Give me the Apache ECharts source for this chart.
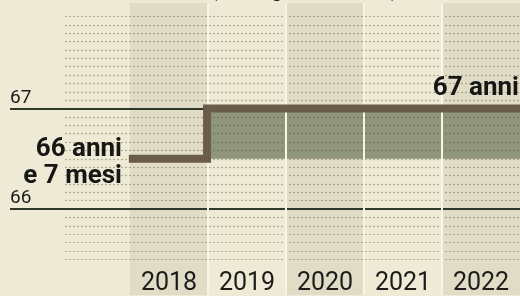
<!DOCTYPE html>
<html>
<head>
<meta charset="utf-8">
<script src="https://cdn.jsdelivr.net/npm/echarts@6/dist/echarts.min.js"></script>
<style>
  html, body { margin: 0; padding: 0; background: #efead5; }
  #main { width: 520px; height: 296px; }
</style>
</head>
<body>
<div id="main"></div>
<script>
// anni e età (in anni)
var years = [2018, 2019, 2020, 2021, 2022];
var ages = [66.5, 67, 67, 67, 67];
var refAges = [66, 67];
var refLabels = ['66', '67'];
var yMinAge = 65.5, yMaxAge = 67 + 11 / 12;

var colLeft = 130, colW = 79;
var gridTop = 16.4, gridBottom = 36.75;

// dati in mesi
var toM = function (a) { return Math.round(a * 12); };
var stepData = years.map(function (y, i) { return [y - 0.5, toM(ages[i])]; });
stepData.push([years[years.length - 1] + 0.5, toM(ages[ages.length - 1])]);

var xMinMain = years[0] - 0.5 - (colLeft - 10) / colW;
var xMax = years[years.length - 1] + 0.5;

var myChart = echarts.init(document.getElementById('main'));
var option = {
    backgroundColor: '#efead5',
    animation: false,
    grid: [
        { left: colLeft, width: colW * years.length, top: 3, bottom: 0 },
        { left: 65, right: -6, top: gridTop, bottom: gridBottom },
        { left: 10, right: -6, top: gridTop, bottom: gridBottom }
    ],
    xAxis: [
        {
            gridIndex: 0, type: 'category', data: years, boundaryGap: true, z: 0,
            position: 'bottom',
            axisLine: { show: false, onZero: false }, axisTick: { show: false }, axisLabel: { show: false },
            splitArea: { show: true, areaStyle: { color: ['#e1dcc5', 'rgba(0,0,0,0)'] } }
        },
        {
            gridIndex: 0, type: 'category', data: years, boundaryGap: true, z: 4,
            position: 'bottom',
            axisLine: { show: false, onZero: false }, axisTick: { show: false },
            axisLabel: {
                inside: true, margin: -1, color: '#1c1c1a',
                fontFamily: 'Roboto', fontSize: 25
            },
            splitLine: { show: true, showMinLine: false, showMaxLine: false,
                lineStyle: { color: '#f8f5e8', width: 2 } }
        },
        { gridIndex: 1, type: 'value', min: 0, max: 1, show: false },
        { gridIndex: 2, type: 'value', min: xMinMain, max: xMax, show: false }
    ],
    yAxis: [
        { gridIndex: 0, type: 'value', min: 0, max: 1, show: false },
        {
            gridIndex: 1, type: 'value', min: toM(yMinAge), max: toM(yMaxAge), interval: 1, z: 2,
            axisLine: { show: false }, axisTick: { show: false }, axisLabel: { show: false },
            splitLine: { show: true, lineStyle: { color: 'rgba(55,50,30,0.33)', width: 1.2, type: [2, 2] } }
        },
        { gridIndex: 2, type: 'value', min: toM(yMinAge), max: toM(yMaxAge), show: false }
    ],
    series: [
        {
            // area verde: aumento dell'età
            type: 'line', xAxisIndex: 3, yAxisIndex: 2, z: 1,
            data: [], symbol: 'none',
            markArea: {
                silent: true, z: 1,
                itemStyle: { color: '#8f967a' },
                data: [[
                    { xAxis: years[1] - 0.5, yAxis: toM(ages[0]) },
                    { xAxis: xMax, yAxis: toM(ages[1]) }
                ]]
            }
        },
        {
            // linee 66 e 67
            type: 'line', xAxisIndex: 3, yAxisIndex: 2, z: 3,
            data: [], symbol: 'none',
            markLine: {
                silent: true, z: 3, symbol: 'none',
                lineStyle: { color: '#2e382b', width: 2, type: 'solid' },
                label: {
                    position: 'insideStartTop', distance: [0, 1],
                    color: '#1c1c1a', fontFamily: 'Roboto', fontSize: 19,
                    formatter: function (p) { return refLabels[refAges.indexOf(p.value / 12)]; }
                },
                data: refAges.map(function (a) { return { yAxis: toM(a) }; })
            }
        },
        {
            type: 'line', xAxisIndex: 3, yAxisIndex: 2, z: 5,
            step: 'end', symbol: 'none',
            lineStyle: { color: '#6a5c4b', width: 8, cap: 'butt', join: 'miter' },
            data: stepData
        }
    ],
    graphic: [
        {
            type: 'text', left: 210, top: -21, z: 6,
            style: { text: '(età legale minima)', font: '22px Roboto', fill: '#1c1c1a' }
        },
        {
            type: 'text', x: 122, y: 149, z: 6,
            style: { text: '66 anni', font: 'bold 26px Roboto', fill: '#161614', align: 'right', verticalAlign: 'middle' }
        },
        {
            type: 'text', x: 122, y: 176, z: 6,
            style: { text: 'e 7 mesi', font: 'bold 26px Roboto', fill: '#161614', align: 'right', verticalAlign: 'middle' }
        },
        {
            type: 'text', x: 519, y: 88.5, z: 6,
            style: { text: '67 anni', font: 'bold 26px Roboto', fill: '#161614', align: 'right', verticalAlign: 'middle' }
        }
    ]
};
myChart.setOption(option);
window.onresize = function () {
    myChart.resize();
};
</script>
</body>
</html>
